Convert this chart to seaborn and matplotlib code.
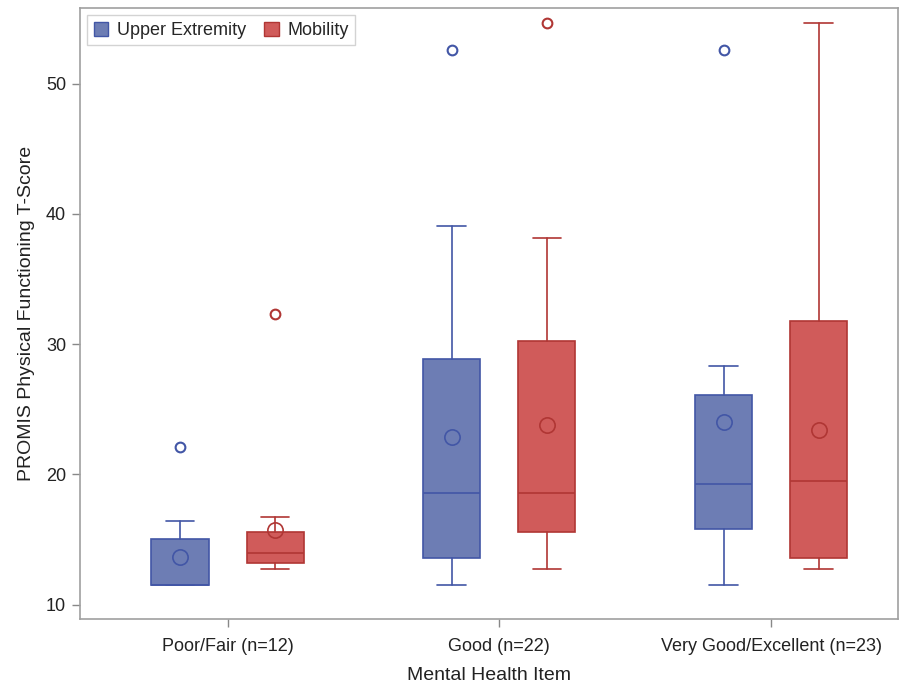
import numpy as np
import pandas as pd
import seaborn as sns
import matplotlib
matplotlib.use("Agg")
import matplotlib.pyplot as plt
from matplotlib.patches import Patch

categories = ["Poor/Fair (n=12)", "Good (n=22)", "Very Good/Excellent (n=23)"]
groups = ["Upper Extremity", "Mobility"]

# per-category stats, Upper Extremity
ue_whislo = [11.5, 11.5, 11.5]
ue_q1 = [11.5, 13.6, 15.8]
ue_med = [11.5, 18.6, 19.3]
ue_q3 = [15.05, 28.9, 26.1]
ue_whishi = [16.4, 39.1, 28.3]
ue_mean = [13.7, 22.9, 24.05]
ue_out = [[22.1], [52.56], [52.56]]

# Mobility
mo_whislo = [12.76, 12.76, 12.76]
mo_q1 = [13.2, 15.6, 13.6]
mo_med = [14.0, 18.6, 19.5]
mo_q3 = [15.6, 30.25, 31.75]
mo_whishi = [16.75, 38.15, 54.7]
mo_mean = [15.75, 23.8, 23.4]
mo_out = [[32.35], [54.7], []]

sns.set_theme(style="white")
plt.rcParams["font.family"] = ["Liberation Sans", "DejaVu Sans"]

fig = plt.figure(figsize=(9.1, 6.84), dpi=100)
ax = fig.add_axes([0.0879, 0.095, 0.8989, 0.893])

fills = ["#6D7DB4", "#D05B5A"]
edges = ["#4256A6", "#B03634"]
offsets = [-0.175, 0.175]
series = [
    (ue_whislo, ue_q1, ue_med, ue_q3, ue_whishi, ue_mean, ue_out),
    (mo_whislo, mo_q1, mo_med, mo_q3, mo_whishi, mo_mean, mo_out),
]

for gi, (wl, q1, med, q3, wh, mean, out) in enumerate(series):
    stats = []
    for i in range(len(categories)):
        stats.append(dict(whislo=wl[i], q1=q1[i], med=med[i], q3=q3[i],
                          whishi=wh[i], mean=mean[i], fliers=out[i]))
    pos = [i + offsets[gi] for i in range(len(categories))]
    ec = edges[gi]
    ax.bxp(stats, positions=pos, widths=0.21, capwidths=0.105,
           patch_artist=True, showmeans=True, showfliers=True,
           boxprops=dict(facecolor=fills[gi], edgecolor=ec, linewidth=1.2),
           medianprops=dict(color=ec, linewidth=1.2),
           whiskerprops=dict(color=ec, linewidth=1.2),
           capprops=dict(color=ec, linewidth=1.2),
           meanprops=dict(marker="o", markerfacecolor="none", markeredgecolor=ec,
                          markersize=11, markeredgewidth=1.2),
           flierprops=dict(marker="o", markerfacecolor="none", markeredgecolor=ec,
                           markersize=7, markeredgewidth=1.5),
           manage_ticks=False)

ax.set_xlim(-0.543, 2.467)
ax.set_ylim(8.9, 55.8)
ax.set_xticks(range(len(categories)))
ax.set_xticklabels(categories)
ax.set_yticks([10, 20, 30, 40, 50])
ax.tick_params(axis="both", which="both", direction="out", length=6, width=1,
               color="#888888", labelsize=13, labelcolor="#222222", pad=4,
               bottom=True, left=True)
ax.tick_params(axis="x", pad=8)
for s in ax.spines.values():
    s.set_color("#A0A0A0")
    s.set_linewidth(1.2)
ax.set_xlabel("Mental Health Item", fontsize=14, color="#222222", labelpad=8)
ax.set_ylabel("PROMIS Physical Functioning T-Score", fontsize=14, color="#222222", labelpad=8)

handles = [Patch(facecolor=fills[i], edgecolor=edges[i], label=groups[i]) for i in range(2)]
leg = ax.legend(handles=handles, loc="upper left", ncol=2, frameon=True, fancybox=False,
                fontsize=13, handlelength=0.8, handleheight=0.8, handletextpad=0.5,
                columnspacing=1.0, borderpad=0.35, borderaxespad=0.4)
leg.get_frame().set_edgecolor("#C8C8C8")
leg.get_frame().set_linewidth(1.0)

fig.savefig("out.png", dpi=100)
